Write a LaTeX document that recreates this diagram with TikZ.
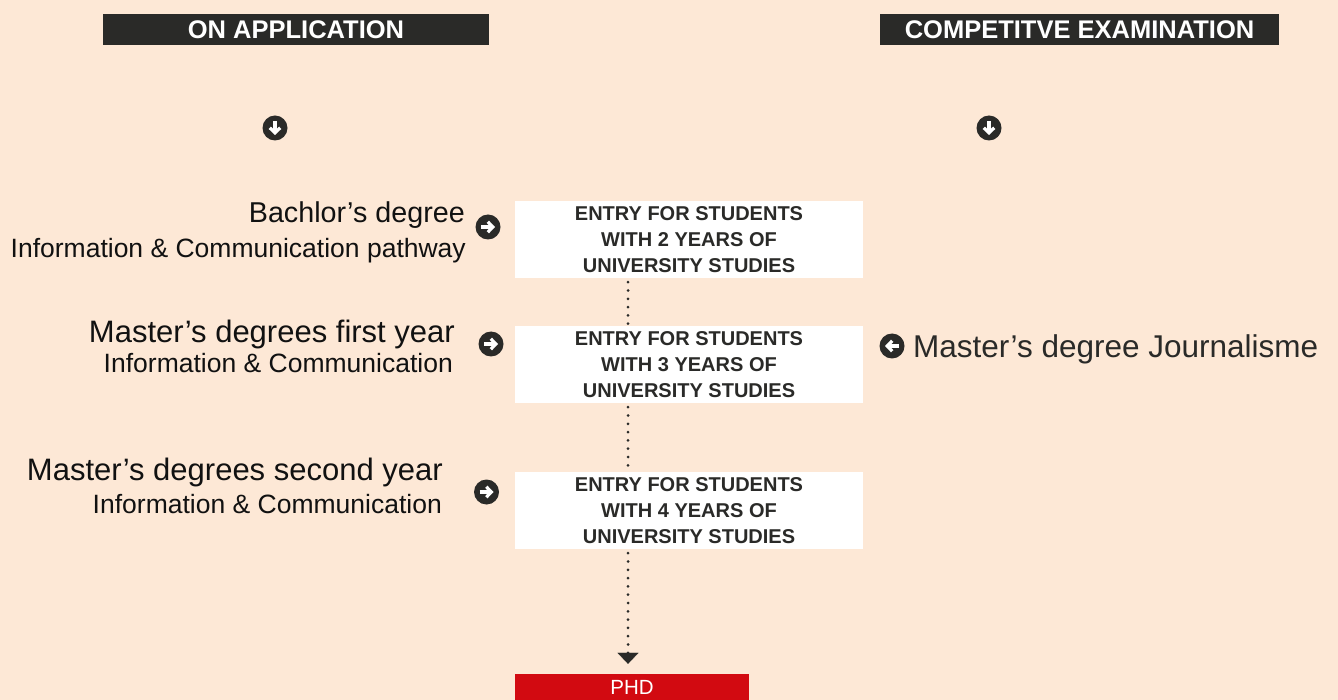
\documentclass[tikz,border=0pt]{standalone}
\usepackage{fontspec}
\setmainfont{Liberation Sans}
\usetikzlibrary{arrows.meta,calc}
\definecolor{bg}{HTML}{FDE8D6}
\definecolor{ink}{HTML}{2A2A28}
\definecolor{txt}{HTML}{111111}
\definecolor{phdred}{HTML}{D20A11}
\tikzset{
  hdr/.style={rectangle, fill=ink, text=white, inner sep=0pt, minimum height=31pt,
    font=\fontsize{25.5}{28}\selectfont\bfseries},
  entrybox/.style={rectangle, fill=white, inner sep=0pt, minimum width=348pt, minimum height=77pt,
    align=center, text=ink, font=\fontsize{20}{26}\selectfont\bfseries},
  ico/.style={circle, fill=ink, minimum size=25pt, inner sep=0pt},
  icoarrow/.style={white, line width=3.2pt, -{Straight Barb[length=5pt,width=10.5pt]}},
  icoR/.style={ico, path picture={\draw[icoarrow]
      ([xshift=-7pt]path picture bounding box.center) -- ([xshift=7pt]path picture bounding box.center);}},
  icoL/.style={ico, path picture={\draw[icoarrow]
      ([xshift=7pt]path picture bounding box.center) -- ([xshift=-7pt]path picture bounding box.center);}},
  icoD/.style={ico, path picture={\draw[icoarrow]
      ([yshift=7pt]path picture bounding box.center) -- ([yshift=-7pt]path picture bounding box.center);}},
  big/.style={anchor=base east, inner sep=0pt, text=txt, font=\fontsize{31}{34}\selectfont},
  small/.style={anchor=base east, inner sep=0pt, text=txt, font=\fontsize{26.5}{30}\selectfont},
  dots/.style={ink, line width=3pt, line cap=round, dash pattern=on 0pt off 8.3pt},
}
\begin{document}
\begin{tikzpicture}[x=1pt,y=-1pt]
\useasboundingbox (0,0) rectangle (1338,700);
\fill[bg] (0,0) rectangle (1338,700);

% headers
\node[hdr, minimum width=386pt] (h1) at (296,29.5) {ON APPLICATION};
\node[hdr, minimum width=399pt] (h2) at (1079.5,29.5) {COMPETITVE EXAMINATION};

% down icons
\node[icoD] (d1) at (275,128) {};
\node[icoD] (d2) at (989,128) {};

% entry boxes
\node[entrybox] (b1) at (689,239.5) {ENTRY FOR STUDENTS\\WITH 2 YEARS OF\\UNIVERSITY STUDIES};
\node[entrybox] (b2) at (689,364.5) {ENTRY FOR STUDENTS\\WITH 3 YEARS OF\\UNIVERSITY STUDIES};
\node[entrybox] (b3) at (689,510.5) {ENTRY FOR STUDENTS\\WITH 4 YEARS OF\\UNIVERSITY STUDIES};

% PHD
\node[rectangle, fill=phdred, text=white, inner sep=0pt, minimum width=234pt, minimum height=26pt,
  font=\fontsize{20.5}{22}\selectfont] (phd) at (632,687) {\raisebox{-2.5pt}{PHD}};

% dotted connectors
\coordinate (dl) at (628,0);
\draw[dots] ([yshift=-4pt]b1.south -| dl) -- (b2.north -| dl);
\draw[dots] ([yshift=-4pt]b2.south -| dl) -- (b3.north -| dl);
\draw[dots] ([yshift=-4pt]b3.south -| dl) -- ([yshift=21pt]phd.north -| dl);
\draw[ink, line width=0.1pt, -{Triangle[width=21pt,length=11pt]}] ([yshift=21.5pt]phd.north -| dl) -- ([yshift=10pt]phd.north -| dl);

% left labels
\node[big, font=\fontsize{28.7}{32}\selectfont] (l1a) at (465,223) {Bachlor’s degree};
\node[small] (l1b) at (466,258) {Information \& Communication pathway};
\node[big] (l2a) at (455,342) {Master’s degrees first year};
\node[small] (l2b) at (453,373) {Information \& Communication};
\node[big] (l3a) at (443,480) {Master’s degrees second year};
\node[small] (l3b) at (442,513) {Information \& Communication};

% right icons
\node[icoR] (r1) at (488,227) {};
\node[icoR] (r2) at (491,344) {};
\node[icoR] (r3) at (486.5,492) {};

% journalism
\node[icoL] (jl) at (892,346) {};
\node[anchor=base west, inner sep=0pt, text=ink, font=\fontsize{31.5}{34}\selectfont] (jt) at (913,357) {Master’s degree Journalisme};
\end{tikzpicture}
\end{document}
